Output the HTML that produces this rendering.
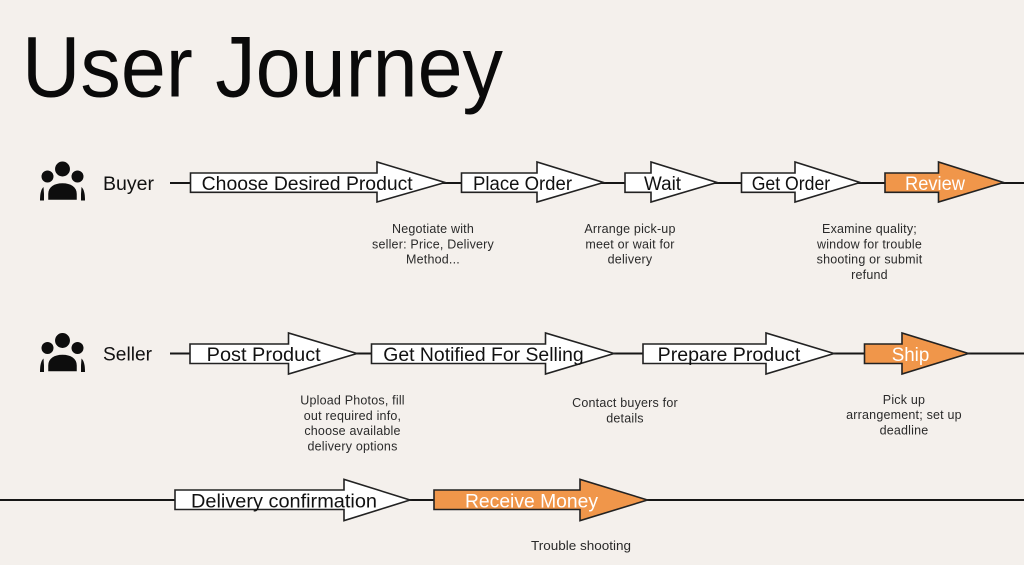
<!DOCTYPE html>
<html><head><meta charset="utf-8"><style>
html,body{margin:0;padding:0;background:#F4F0EC;}
svg{display:block;}
text{font-family:"Liberation Sans",Arial,sans-serif;}
.lbl{font-size:19px;fill:#111;}
.wl{font-size:19px;fill:#fff;}
.ann{font-size:12.5px;fill:#2a2a2a;text-anchor:middle;letter-spacing:0.2px;}
.ar{fill:#fff;stroke:#222;stroke-width:1.6;stroke-linejoin:miter;}
.or{fill:#F0964A;stroke:#222;stroke-width:1.6;}
.ln{stroke:#161616;stroke-width:2;}
</style></head><body>
<svg width="1024" height="565" viewBox="0 0 1024 565" xmlns="http://www.w3.org/2000/svg">
<rect width="1024" height="565" fill="#F4F0EC"/>
<text x="22" y="96.5" font-size="86" fill="#0a0a0a" textLength="481" lengthAdjust="spacingAndGlyphs">User Journey</text>

<!-- icons -->
<g fill="#0d0d0d">
  <circle cx="47.5" cy="176.5" r="6"/>
  <circle cx="77.5" cy="176.5" r="6"/>
  <circle cx="62.5" cy="169" r="8.2" stroke="#F4F0EC" stroke-width="1.5"/>
  <path d="M47,201 L47,194 C47,186 54,182 62.5,182 C71,182 78,186 78,194 L78,201 Z" stroke="#F4F0EC" stroke-width="2.5"/>
  <path d="M43.5,187 C41,189.5 40,193.5 40,200.5 L44,200.5 L44,194 Z"/>
  <path d="M81.5,187 C84,189.5 85,193.5 85,200.5 L81,200.5 L81,194 Z"/>
</g>
<g transform="translate(0,171.5)" fill="#0d0d0d">
  <circle cx="47.5" cy="176.5" r="6"/>
  <circle cx="77.5" cy="176.5" r="6"/>
  <circle cx="62.5" cy="169" r="8.2" stroke="#F4F0EC" stroke-width="1.5"/>
  <path d="M47,201 L47,194 C47,186 54,182 62.5,182 C71,182 78,186 78,194 L78,201 Z" stroke="#F4F0EC" stroke-width="2.5"/>
  <path d="M43.5,187 C41,189.5 40,193.5 40,200.5 L44,200.5 L44,194 Z"/>
  <path d="M81.5,187 C84,189.5 85,193.5 85,200.5 L81,200.5 L81,194 Z"/>
</g>

<text x="103" y="190" font-size="19" fill="#111" textLength="51" lengthAdjust="spacingAndGlyphs">Buyer</text>
<text x="103" y="360.5" font-size="19" fill="#111" textLength="49" lengthAdjust="spacingAndGlyphs">Seller</text>

<!-- Buyer row -->
<line class="ln" x1="170" y1="183" x2="1024" y2="183"/>
<polygon class="ar" points="190.5,173 377,173 377,162 445,182.5 377,202 377,192.3 190.5,192.3"/>
<polygon class="ar" points="461.5,173 537,173 537,162 603.5,182.5 537,202 537,192.3 461.5,192.3"/>
<polygon class="ar" points="625,173 651,173 651,162 717,182.5 651,202 651,192.3 625,192.3"/>
<polygon class="ar" points="741.5,173 795,173 795,162 860,182.5 795,202 795,192.3 741.5,192.3"/>
<polygon class="or" points="885,173 938.5,173 938.5,162 1003.5,182.5 938.5,202 938.5,192.3 885,192.3"/>
<text class="lbl" x="201.7" y="190" textLength="211" lengthAdjust="spacingAndGlyphs">Choose Desired Product</text>
<text class="lbl" x="473" y="190" textLength="99" lengthAdjust="spacingAndGlyphs">Place Order</text>
<text class="lbl" x="644" y="190" textLength="37" lengthAdjust="spacingAndGlyphs">Wait</text>
<text class="lbl" x="751.7" y="190" textLength="78.5" lengthAdjust="spacingAndGlyphs">Get Order</text>
<text class="wl" x="905" y="190" textLength="60" lengthAdjust="spacingAndGlyphs">Review</text>

<text class="ann" x="433" y="233">Negotiate with</text>
<text class="ann" x="433" y="248.3">seller: Price, Delivery</text>
<text class="ann" x="433" y="263.6">Method...</text>
<text class="ann" x="630" y="233">Arrange pick-up</text>
<text class="ann" x="630" y="248.3">meet or wait for</text>
<text class="ann" x="630" y="263.6">delivery</text>
<text class="ann" x="869.5" y="233">Examine quality;</text>
<text class="ann" x="869.5" y="248.3">window for trouble</text>
<text class="ann" x="869.5" y="263.6">shooting or submit</text>
<text class="ann" x="869.5" y="278.9">refund</text>

<!-- Seller row -->
<line class="ln" x1="170" y1="353.5" x2="1024" y2="353.5"/>
<polygon class="ar" points="190,344 288.5,344 288.5,333 357,353.5 288.5,374 288.5,363.5 190,363.5"/>
<polygon class="ar" points="371.5,344 545.5,344 545.5,333 614,353.5 545.5,374 545.5,363.5 371.5,363.5"/>
<polygon class="ar" points="643,344 766,344 766,333 834,353.5 766,374 766,363.5 643,363.5"/>
<polygon class="or" points="864.5,344 902,344 902,333 968.5,353.5 902,374 902,363.5 864.5,363.5"/>
<text class="lbl" x="206.7" y="360.8" textLength="114" lengthAdjust="spacingAndGlyphs">Post Product</text>
<text class="lbl" x="383.3" y="360.8" textLength="200.4" lengthAdjust="spacingAndGlyphs">Get Notified For Selling</text>
<text class="lbl" x="657.7" y="360.8" textLength="142.6" lengthAdjust="spacingAndGlyphs">Prepare Product</text>
<text class="wl" x="891.7" y="360.8" textLength="37.6" lengthAdjust="spacingAndGlyphs">Ship</text>

<text class="ann" x="352.5" y="404.5">Upload Photos, fill</text>
<text class="ann" x="352.5" y="419.8">out required info,</text>
<text class="ann" x="352.5" y="435.1">choose available</text>
<text class="ann" x="352.5" y="450.4">delivery options</text>
<text class="ann" x="625" y="407">Contact buyers for</text>
<text class="ann" x="625" y="422.3">details</text>
<text class="ann" x="904" y="403.8">Pick up</text>
<text class="ann" x="904" y="419.1">arrangement; set up</text>
<text class="ann" x="904" y="434.4">deadline</text>

<!-- Row 3 -->
<line class="ln" x1="0" y1="500" x2="1024" y2="500"/>
<polygon class="ar" points="175,490 344,490 344,479.3 410,500 344,520.7 344,509.5 175,509.5"/>
<polygon class="or" points="434,490 580,490 580,479.3 647.5,500 580,520.7 580,509.5 434,509.5"/>
<text class="lbl" x="191" y="507.3" textLength="186" lengthAdjust="spacingAndGlyphs">Delivery confirmation</text>
<text class="wl" x="465" y="507.3" textLength="133" lengthAdjust="spacingAndGlyphs">Receive Money</text>
<text x="531" y="550" font-size="12.5" fill="#2a2a2a" textLength="100" lengthAdjust="spacingAndGlyphs">Trouble shooting</text>
</svg>
</body></html>
